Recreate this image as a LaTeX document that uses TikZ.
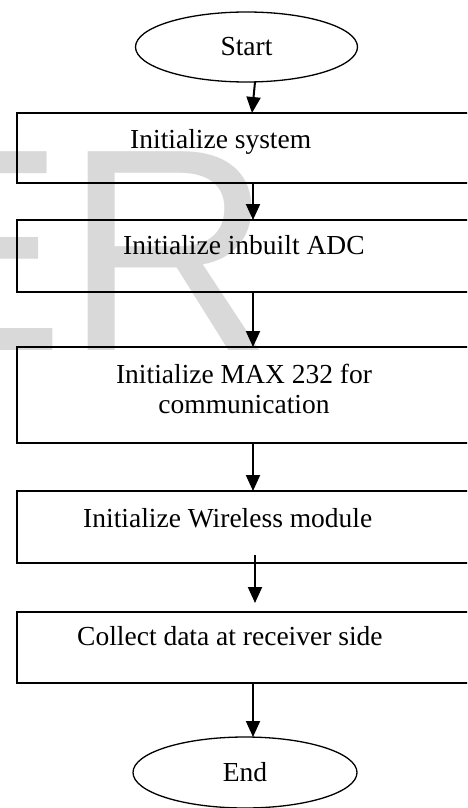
\documentclass[tikz,border=0pt]{standalone}
\usepackage{fontspec}
\setmainfont{Liberation Serif}
\setsansfont{Liberation Sans}
\usetikzlibrary{arrows.meta,shapes.geometric}
\tikzset{
  mainfont/.style={font=\rmfamily\fontsize{27.5}{30}\selectfont},
  term/.style={ellipse, draw, line width=1.3pt, minimum width=222pt, minimum height=70pt, inner sep=0pt, outer sep=0pt, mainfont},
  stepbox/.style={rectangle, draw, line width=2pt, minimum width=460pt, anchor=north west, inner sep=0pt, outer sep=0pt},
  lbl/.style={inner sep=0pt, anchor=base west, mainfont},
  arr/.style={line width=2pt, -{Triangle[width=14pt,length=16pt]}},
  wm/.style={inner sep=0pt, anchor=base west, text=black!15, font=\sffamily\fontsize{289}{289}\selectfont}
}
\begin{document}
\begin{tikzpicture}[x=1pt,y=-1pt]
  \useasboundingbox (0,0) rectangle (467,808);
  \clip (0,0) rectangle (467,808);
  % watermark
  \node[wm] (wmER) at (-128,350) {ER};
  % terminals
  \node[term] (s) at (246.5,47) {Start};
  \node[term, minimum width=224pt, minimum height=71pt] (e) at (245,772.5) {End};
  % boxes
  \node[stepbox, minimum height=70pt] (b1) at (17,113) {};
  \node[stepbox, minimum height=72pt] (b2) at (17,220) {};
  \node[stepbox, minimum height=96pt] (b3) at (17,347) {};
  \node[stepbox, minimum height=72pt] (b4) at (17,491) {};
  \node[stepbox, minimum height=71pt] (b5) at (17,612) {};
  % labels
  \node[lbl] (t1) at (130,148) {Initialize system};
  \node[lbl] (t2) at (123,254) {Initialize inbuilt ADC};
  \node[lbl, align=center, anchor=center] (t3) at (244,389) {Initialize MAX 232 for\\communication};
  \node[lbl] (t4) at (83,527) {Initialize Wireless module};
  \node[lbl] (t5) at (77,645) {Collect data at receiver side};
  % helper coordinates
  \coordinate (cx) at (253,0);
  \coordinate (cs) at (255,0);
  \coordinate (ct) at (252,0);
  \coordinate (a5s) at (255,555);
  \coordinate (a5e) at (255,603);
  % connectors
  \draw[arr] (s.south -| cs) -- (b1.north -| ct);
  \draw[arr] (b1.south -| cx) -- (b2.north -| cx);
  \draw[arr] (b2.south -| cx) -- (b3.north -| cx);
  \draw[arr] (b3.south -| cx) -- (b4.north -| cx);
  \draw[arr] (a5s) -- (a5e);
  \draw[arr] (b5.south -| cx) -- (e.north -| cx);
\end{tikzpicture}
\end{document}
